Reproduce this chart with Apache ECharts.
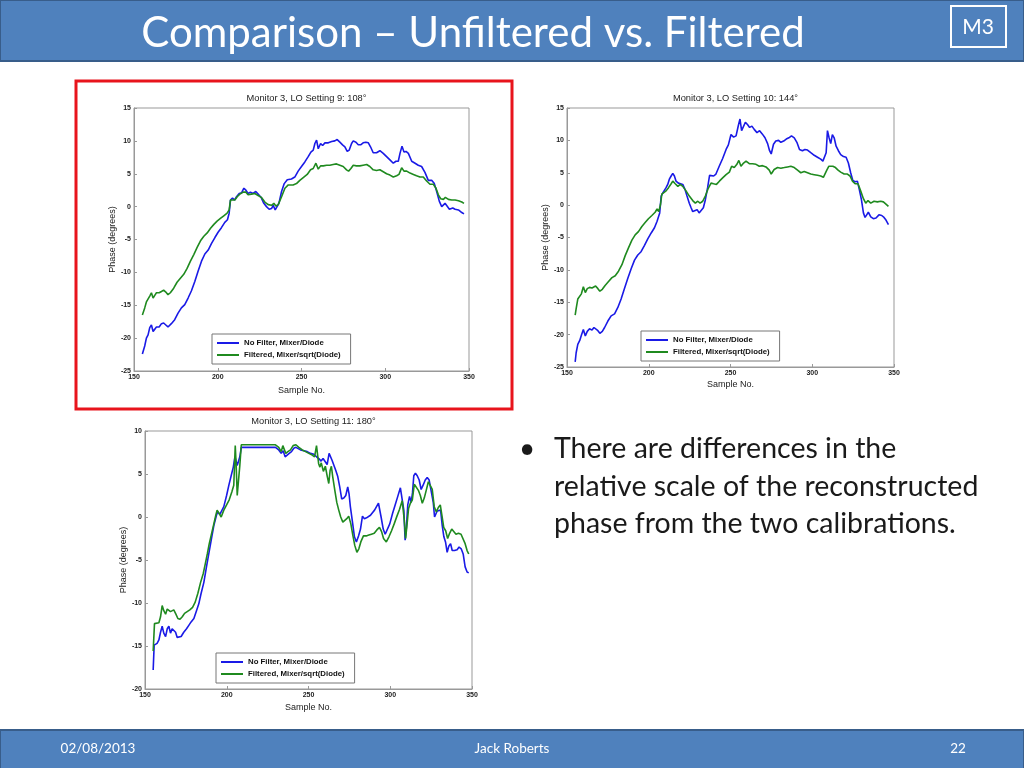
<!DOCTYPE html>
<html>
<head>
<meta charset="utf-8">
<script src="https://cdn.jsdelivr.net/npm/echarts@6/dist/echarts.min.js"></script>
<style>
  html, body { margin: 0; padding: 0; background: #fff; }
  #main { width: 1024px; height: 768px; }
</style>
</head>
<body>
<div id="main"></div>
<script>
// [sample, phase] pairs
var lo9NoFilter = [[155,-22.4],[156.4,-21.2],[157.4,-20.0],[158.4,-19.5],[159.4,-18.4],[160.4,-18.0],[161.4,-19.0],[162.4,-18.7],[163.4,-18.3],[165,-18.3],[166.4,-17.8],[167.7,-17.7],[169,-18.0],[170.3,-18.3],[171.3,-18.2],[172.3,-17.8],[174.3,-17.2],[176.3,-16.2],[178.3,-15.4],[180.3,-14.9],[182.3,-13.9],[184.3,-12.8],[186.3,-11.4],[188.3,-9.8],[190.3,-8.3],[192.3,-7.2],[194.3,-6.6],[196.3,-5.6],[198.3,-4.7],[200.2,-3.9],[202.2,-3.2],[204.2,-2.4],[205.8,-2.0],[206.8,-1.0],[207.6,1.0],[208.8,1.3],[210,1.0],[211.2,1.5],[212.8,2.0],[214.2,2.1],[215.6,2.8],[216.8,2.5],[218.1,2.0],[219.5,2.2],[221.1,2.0],[222.7,2.3],[224.1,1.9],[226.1,1.3],[227.5,0.5],[229.1,0.0],[230.7,-0.4],[232.1,-0.3],[233.1,0.2],[234.3,-0.5],[235.1,-0.3],[236.5,0.5],[238.1,2.3],[239.7,3.5],[241.5,4.1],[244,4.2],[246,4.5],[248,5.4],[250,6.1],[252,6.8],[254,7.6],[255.6,8.3],[257,8.6],[258,9.6],[259,10.1],[260,8.8],[261.4,9.6],[262.6,9.3],[264,9.7],[266,9.7],[268,9.9],[269.9,10.0],[271.3,10.2],[272.9,9.8],[274.5,9.4],[275.9,9.1],[277.3,8.4],[278.5,8.6],[279.9,9.6],[280.9,10.0],[282.5,9.8],[283.9,9.4],[285.3,9.4],[286.8,9.7],[288.4,9.8],[289.9,9.7],[291.2,9.1],[292.8,8.2],[294.8,8.2],[296.8,8.5],[298.8,8.1],[300.8,7.6],[302.8,7.1],[304.8,6.6],[306.4,6.9],[307.8,6.9],[308.8,8.1],[310,9.2],[311.2,8.3],[312.4,8.4],[313.8,8.1],[315.8,6.9],[317.8,6.6],[319.7,6.3],[321.7,6.1],[323.7,5.2],[325.7,4.0],[327.7,4.0],[329.3,3.5],[330.7,2.3],[332.3,0.8],[333.7,0.0],[334.7,0.2],[335.7,0.5],[336.7,0.2],[338.3,-0.4],[340.3,-0.2],[341.7,-0.4],[343.7,-0.5],[345.7,-0.9],[347,-1.1]];
var lo9Filtered = [[155,-16.5],[156.4,-15.4],[157.4,-14.5],[158.4,-14.3],[159.4,-13.6],[160.4,-13.1],[161.4,-13.9],[162.4,-13.5],[163.4,-13.1],[165,-13.1],[166.4,-12.9],[167.7,-12.7],[169,-13.0],[170.3,-13.4],[171.7,-13.1],[173.7,-12.4],[175.7,-11.5],[177.7,-10.9],[179.7,-10.3],[181.7,-9.4],[183.7,-8.3],[185.7,-7.3],[187.7,-6.2],[189.7,-5.2],[191.7,-4.5],[193.7,-4.0],[195.7,-3.3],[197.7,-2.7],[199.6,-2.2],[201.6,-1.8],[203.6,-1.4],[205.6,-1.0],[206.8,-0.5],[207.6,1.0],[208.8,1.0],[210.2,1.0],[211.6,1.5],[213.2,1.9],[215.2,2.2],[216.8,2.2],[218.1,1.8],[220.1,1.9],[222.1,2.0],[224.1,1.7],[226.1,1.4],[228.1,0.7],[230.1,0.3],[232.1,0.2],[233.5,0.5],[234.7,0.1],[236.1,0.3],[238.1,1.5],[240.1,2.8],[242.1,3.3],[245,3.3],[247,3.5],[249,4.0],[251.4,4.5],[253.4,4.9],[255.4,5.6],[257,5.8],[258.6,6.6],[260,5.7],[261.4,6.2],[263,6.2],[265,6.3],[266.9,6.3],[268.9,6.4],[270.9,6.5],[272.9,6.3],[274.9,6.1],[276.9,5.6],[278.1,5.4],[279.5,5.8],[280.9,6.3],[282.8,6.2],[284.8,6.2],[286.8,6.3],[288.9,6.4],[290.8,6.1],[292.8,5.6],[294.8,5.5],[296.8,5.6],[298.8,5.3],[300.8,5.0],[302.8,4.8],[304.8,4.5],[306.8,4.7],[308.2,4.9],[309.8,5.9],[311.2,5.4],[312.8,5.4],[314.8,5.1],[316.8,4.9],[318.7,4.7],[320.7,4.5],[322.7,4.5],[324.7,3.9],[326.7,3.4],[328.7,3.4],[330.3,2.8],[331.7,1.8],[333.1,1.2],[334.7,1.1],[335.9,1.4],[337.7,1.1],[339.7,1.0],[341.7,1.0],[343.7,0.9],[345.7,0.7],[347,0.5]];

var lo10NoFilter = [[155,-24.2],[155.6,-22.8],[156.6,-21.5],[157.8,-20.9],[158.8,-20.1],[160.0,-19.2],[161.2,-20.2],[162.4,-19.5],[163.8,-19.1],[165.3,-19.3],[166.5,-18.9],[167.5,-18.7],[168.9,-19.4],[170.1,-19.8],[171.6,-19.5],[173.0,-18.9],[175.0,-17.9],[177.0,-17.1],[179.1,-16.8],[181.1,-15.8],[183.1,-14.5],[185.1,-12.9],[187.2,-11.3],[189.3,-9.8],[191.3,-8.5],[193.3,-7.7],[195.3,-7.2],[197.4,-6.2],[199.4,-5.2],[201.5,-4.3],[203.5,-3.5],[205.1,-2.5],[206.1,-2.3],[206.7,-1.2],[207.6,1.4],[208.6,1.9],[209.6,2.2],[210.6,2.7],[211.6,3.2],[212.6,4.0],[213.7,4.5],[214.7,4.9],[215.7,4.5],[216.7,3.7],[218.1,3.4],[219.3,3.6],[220.8,3.2],[222.2,2.4],[223.4,1.4],[224.8,0.3],[225.9,-0.4],[226.9,-1.0],[228.1,-1.3],[229.6,-0.7],[230.8,-1.2],[232.0,-1.1],[233.4,-0.4],[234.6,0.8],[236.0,2.7],[237.2,4.6],[238.4,4.8],[239.7,4.5],[241.1,4.8],[243.1,6.0],[245.2,7.2],[247.3,8.6],[248.7,9.3],[250.3,10.9],[251.9,10.5],[253.4,10.7],[254.8,12.3],[255.8,13.3],[256.8,11.5],[258.0,11.7],[259.1,12.8],[260.5,12.4],[261.7,12.0],[263.1,12.2],[264.5,11.7],[266.2,11.2],[267.8,11.5],[269.4,11.0],[271.1,10.4],[272.7,9.5],[273.9,8.4],[274.9,7.9],[276.3,9.4],[277.7,9.9],[279.4,10.0],[280.8,9.7],[282.5,9.9],[284.1,10.2],[285.7,10.4],[287.3,10.7],[289.0,10.4],[290.6,9.7],[292.2,8.6],[294.0,8.4],[295.5,8.6],[297.1,8.5],[299.1,8.1],[301.2,7.7],[303.2,7.4],[305.2,7.1],[306.5,6.8],[307.7,6.5],[308.5,8.1],[309.3,11.5],[310.3,10.4],[311.3,9.5],[312.3,10.9],[313.4,10.4],[314.6,9.1],[316.0,8.4],[317.4,7.8],[319.1,7.5],[320.7,7.4],[322.1,6.5],[323.5,5.0],[324.8,3.8],[326.2,3.6],[327.6,3.7],[328.8,2.4],[330.1,0.8],[331.3,-1.2],[332.3,-1.9],[333.3,-1.5],[334.3,-1.1],[335.8,-1.8],[337.4,-2.1],[339.0,-2.0],[340.8,-1.5],[342.5,-1.6],[343.9,-1.9],[345.1,-2.3],[346.6,-3.0]];
var lo10Filtered = [[155,-17.0],[155.6,-16.0],[156.6,-14.5],[157.8,-14.2],[158.8,-13.7],[160.0,-12.6],[161.2,-13.5],[162.4,-12.9],[163.8,-12.7],[165.3,-12.8],[166.5,-12.6],[167.5,-12.5],[168.9,-12.9],[170.1,-13.3],[171.6,-13.0],[173.3,-12.4],[175.4,-11.8],[177.5,-11.2],[179.5,-10.9],[181.5,-10.2],[183.6,-9.2],[185.6,-7.8],[187.6,-6.6],[189.7,-5.4],[191.7,-4.6],[193.7,-4.1],[195.8,-3.3],[197.8,-2.7],[199.8,-2.1],[201.9,-1.6],[203.9,-1.1],[205.1,-0.6],[206.1,-1.0],[207.2,0.1],[208.0,1.7],[209.2,1.9],[210.6,2.2],[212.1,2.7],[213.7,3.3],[214.7,3.7],[216.2,3.3],[217.8,2.9],[219.3,3.2],[220.8,2.9],[222.8,2.2],[224.8,1.4],[226.9,0.7],[228.5,0.3],[230.0,0.6],[231.4,0.3],[233.0,0.6],[234.6,1.4],[236.4,2.6],[238.1,3.4],[239.7,3.3],[241.4,3.2],[243.2,3.7],[245.2,4.2],[247.3,4.7],[249.3,5.1],[250.7,6.0],[252.3,5.8],[253.9,6.3],[255.1,6.9],[256.4,6.0],[258.0,6.5],[259.5,6.8],[261.5,6.4],[263.5,6.4],[265.6,6.3],[267.6,6.0],[269.6,6.1],[271.7,5.9],[273.7,5.4],[274.9,4.8],[276.7,5.5],[278.8,5.8],[280.8,5.7],[282.9,5.8],[284.9,5.9],[286.9,6.0],[289.0,5.8],[291.0,5.4],[293.0,5.0],[295.1,5.2],[297.1,5.0],[299.1,4.8],[301.2,4.7],[303.2,4.6],[305.2,4.5],[306.8,4.3],[307.8,4.1],[308.9,5.4],[310.1,6.0],[311.3,5.7],[312.6,6.0],[314.2,5.8],[315.8,5.4],[317.4,5.1],[319.5,4.8],[321.5,4.8],[323.1,4.5],[324.6,3.7],[326.2,3.3],[328.0,3.3],[329.6,2.2],[331.3,1.0],[332.7,0.3],[334.1,0.7],[335.8,0.3],[337.8,0.6],[339.8,0.5],[341.9,0.6],[343.5,0.5],[344.9,0.2],[346.6,-0.2]];

var lo11NoFilter = [[155,-17.8],[155.6,-14.9],[156.4,-15.0],[157.4,-14.7],[158.5,-14.3],[159.5,-13.4],[160.5,-12.7],[161.5,-13.5],[162.6,-13.9],[163.6,-13.0],[164.6,-12.7],[165.6,-13.5],[166.6,-13.0],[167.6,-12.8],[168.7,-13.4],[169.7,-14.0],[170.7,-14.1],[172.1,-13.9],[173.7,-13.4],[175.4,-13.0],[176.8,-12.6],[178.2,-12.2],[179.9,-11.8],[181.5,-10.9],[182.9,-10.1],[184.3,-8.9],[186.0,-7.6],[187.6,-5.8],[189.0,-4.3],[190.5,-2.7],[192.1,-1.0],[193.7,0.2],[194.5,0.6],[195.8,0.3],[196.8,0.1],[198.2,1.2],[199.9,2.5],[201.3,3.7],[202.7,4.8],[204.0,5.8],[205.0,7.0],[205.6,7.2],[206.4,6.0],[207.2,5.8],[208.0,7.0],[208.9,8.1],[210.5,8.1],[214.6,8.1],[218.7,8.1],[222.7,8.1],[226.7,8.1],[229.8,8.1],[231.8,7.8],[233.3,7.4],[234.5,7.7],[235.7,7.0],[236.9,6.8],[238.2,7.4],[239.6,7.6],[241.0,8.0],[242.3,8.1],[243.5,7.9],[245.1,7.8],[247.2,7.7],[249.2,7.6],[251.2,7.4],[253.3,7.3],[254.9,7.0],[256.3,6.8],[257.7,6.5],[258.9,6.8],[260.1,6.6],[261.4,6.1],[262.6,7.4],[263.4,7.6],[264.4,6.6],[265.4,6.4],[266.7,5.4],[267.9,4.7],[269.1,3.5],[270.3,2.1],[271.6,2.2],[272.8,2.5],[274.0,3.5],[274.8,2.7],[275.6,1.2],[276.9,-0.6],[278.1,-2.3],[279.3,-2.9],[280.6,-2.2],[281.8,-1.4],[283.0,0.1],[284.2,-0.2],[285.5,-0.1],[286.7,0.1],[287.9,0.2],[289.1,0.5],[290.4,0.8],[291.6,1.2],[292.8,1.6],[293.6,1.4],[294.4,0.0],[295.7,-1.4],[296.9,-2.0],[298.1,-1.9],[299.7,-0.8],[301.4,0.4],[303.0,1.4],[304.6,2.4],[306.2,3.4],[307.3,3.6],[308.3,0.8],[309.1,-2.7],[309.9,-1.2],[310.7,1.4],[311.8,2.4],[312.8,1.7],[313.6,2.8],[314.4,4.8],[315.4,5.1],[316.5,4.8],[317.7,4.3],[318.9,3.2],[320.1,3.7],[321.4,4.3],[322.6,4.6],[323.8,4.3],[325.0,4.1],[326.3,1.7],[327.1,0.0],[327.9,-0.1],[328.7,0.7],[329.9,0.9],[330.8,0.8],[331.8,-1.0],[332.8,-2.3],[333.8,-2.9],[334.8,-4.1],[335.8,-3.4],[336.9,-3.1],[337.9,-3.9],[339.3,-3.9],[340.9,-3.8],[342.1,-3.5],[343.4,-3.7],[344.6,-4.3],[345.8,-5.8],[347.0,-6.4],[348.0,-6.5]];
var lo11Filtered = [[155,-15.6],[155.8,-12.4],[157.0,-12.3],[158.5,-12.3],[159.5,-11.6],[160.5,-10.3],[161.5,-10.9],[162.6,-11.3],[163.6,-10.7],[164.6,-10.5],[165.6,-11.0],[166.6,-10.9],[167.6,-10.8],[168.9,-11.3],[170.1,-11.8],[171.4,-11.9],[172.8,-11.6],[174.2,-11.2],[175.8,-11.0],[177.4,-10.8],[179.1,-10.5],[180.7,-9.9],[182.3,-8.9],[184.0,-7.6],[185.6,-6.6],[186.8,-5.5],[188.1,-4.3],[189.3,-3.1],[190.5,-2.1],[192.1,-0.8],[193.3,0.2],[194.1,0.8],[195.4,0.4],[196.6,0.0],[198.2,0.8],[199.9,1.4],[201.5,2.0],[203.1,2.9],[204.3,3.7],[205.2,8.3],[205.8,5.8],[206.4,2.5],[207.2,2.5],[208.0,6.0],[208.9,8.4],[210.5,8.4],[218.7,8.4],[226.7,8.4],[229.8,8.4],[231.8,8.1],[233.3,7.6],[234.3,8.3],[235.1,8.3],[236.1,7.4],[237.4,7.6],[239.0,7.8],[240.6,8.3],[242.3,8.4],[244.1,8.1],[246.2,7.8],[248.2,7.6],[250.2,7.4],[252.3,7.2],[253.7,7.0],[254.9,8.3],[255.6,8.1],[256.2,6.2],[257.0,5.8],[257.8,6.3],[259.1,5.3],[260.3,5.9],[261.5,4.7],[262.4,3.9],[263.2,5.4],[264.0,5.9],[264.8,4.7],[266.1,3.1],[267.3,1.7],[268.5,0.8],[269.7,0.0],[271.0,-0.6],[272.2,-0.6],[273.4,-0.2],[274.6,0.1],[275.9,-0.8],[277.1,-2.1],[278.3,-3.3],[279.6,-4.1],[280.8,-3.7],[282.0,-2.9],[283.6,-2.2],[285.3,-2.2],[286.9,-2.1],[288.5,-2.0],[290.2,-1.9],[291.8,-1.5],[293.4,-1.2],[294.7,-1.7],[295.9,-2.5],[297.6,-2.9],[299.2,-2.3],[300.8,-1.6],[302.4,-0.8],[304.1,0.1],[305.7,0.9],[307.3,1.9],[308.6,-0.4],[309.4,-2.5],[310.2,-1.0],[311.2,1.0],[312.3,1.6],[313.5,2.0],[314.7,3.8],[315.9,3.8],[317.2,3.1],[318.4,2.5],[319.6,1.6],[320.8,2.2],[322.0,3.1],[323.3,4.1],[324.5,4.1],[325.7,3.2],[326.9,1.2],[328.2,0.6],[329.4,1.1],[330.6,1.4],[331.6,0.2],[332.7,-1.2],[333.9,-1.6],[335.1,-2.5],[336.3,-1.9],[337.6,-1.4],[338.8,-1.6],[340.2,-2.0],[341.7,-1.9],[343.3,-2.0],[344.5,-1.9],[345.8,-3.1],[347.0,-3.9],[348.0,-4.3]];

var plotTitles = ['Monitor 3, LO Setting 9: 108\u00b0', 'Monitor 3, LO Setting 10: 144\u00b0', 'Monitor 3, LO Setting 11: 180\u00b0'];
var seriesNames = ['No Filter, Mixer/Diode', 'Filtered, Mixer/sqrt(Diode)'];
var bulletLines = ['There are differences in the', 'relative scale of the reconstructed', 'phase from the two calibrations.'];

var chart = echarts.init(document.getElementById('main'), null, { renderer: 'canvas' });

var blue = '#1a1ae6';
var green = '#1f8a1f';
var axisFont = 'Liberation Sans';

// plot boxes measured off the slide
var boxes = [
  { left: 134, top: 108, width: 335, height: 263, yMin: -25, yMax: 15, legend: [212, 334], xGap: 15, yGap: 16 },
  { left: 567, top: 108, width: 327, height: 259, yMin: -25, yMax: 15, legend: [641, 331], xGap: 13, yGap: 16 },
  { left: 145, top: 431, width: 327, height: 258, yMin: -20, yMax: 10, legend: [216, 653], xGap: 14, yGap: 15 }
];

function xAx(i, b) {
  return {
    type: 'value', gridIndex: i, min: 150, max: 350, interval: 50,
    name: 'Sample No.', nameLocation: 'middle', nameGap: b.xGap,
    nameTextStyle: { fontFamily: axisFont, fontSize: 9, color: '#222' },
    axisLine: { onZero: false, lineStyle: { color: '#999' } },
    axisTick: { inside: true, length: 3, lineStyle: { color: '#999' } },
    axisLabel: { fontFamily: axisFont, fontSize: 7, fontWeight: 'bold', color: '#222', margin: 3 },
    splitLine: { show: false }
  };
}
function yAx(i, b) {
  return {
    type: 'value', gridIndex: i, min: b.yMin, max: b.yMax, interval: 5,
    name: 'Phase (degrees)', nameLocation: 'middle', nameGap: b.yGap,
    nameTextStyle: { fontFamily: axisFont, fontSize: 9, color: '#222' },
    axisLine: { onZero: false, lineStyle: { color: '#999' } },
    axisTick: { inside: true, length: 3, lineStyle: { color: '#999' } },
    axisLabel: { fontFamily: axisFont, fontSize: 7, fontWeight: 'bold', color: '#222', margin: 3 },
    splitLine: { show: false }
  };
}
function line(name, idx, data, color) {
  return {
    name: name, type: 'line', xAxisIndex: idx, yAxisIndex: idx,
    data: data, showSymbol: false, symbol: 'none',
    lineStyle: { color: color, width: 1.6 }, itemStyle: { color: color }
  };
}

var option = {
  animation: false,
  backgroundColor: '#fff',
  title: boxes.map(function (b, i) {
    return {
      text: plotTitles[i], left: b.left + b.width / 2, top: b.top - 19, textAlign: 'center',
      textStyle: { fontFamily: axisFont, fontSize: 9.3, fontWeight: 'normal', color: '#222' }
    };
  }),
  legend: boxes.map(function (b) {
    return {
      data: seriesNames, orient: 'vertical', left: b.legend[0], top: b.legend[1],
      icon: 'rect', itemWidth: 22, itemHeight: 2, itemGap: 4,
      padding: [5, 10, 5, 5], borderColor: '#777', borderWidth: 1, backgroundColor: '#fff',
      textStyle: { fontFamily: axisFont, fontSize: 7.8, fontWeight: 'bold', color: '#111' },
      selectedMode: false
    };
  }),
  grid: boxes.map(function (b) {
    return { left: b.left, top: b.top, width: b.width, height: b.height, show: true, borderColor: '#999', borderWidth: 1 };
  }),
  xAxis: boxes.map(function (b, i) { return xAx(i, b); }),
  yAxis: boxes.map(function (b, i) { return yAx(i, b); }),
  series: [
    line(seriesNames[0], 0, lo9NoFilter, blue),
    line(seriesNames[1], 0, lo9Filtered, green),
    line(seriesNames[0], 1, lo10NoFilter, blue),
    line(seriesNames[1], 1, lo10Filtered, green),
    line(seriesNames[0], 2, lo11NoFilter, blue),
    line(seriesNames[1], 2, lo11Filtered, green)
  ],
  graphic: [
    { type: 'rect', shape: { x: 0, y: 0, width: 1024, height: 61 }, style: { fill: '#4f81bd', stroke: '#385d8a', lineWidth: 2 } },
    { type: 'text', x: 473, y: 33, style: { text: 'Comparison \u2013 Unfiltered vs. Filtered', fill: '#fff', font: '42px Lato', textAlign: 'center', textVerticalAlign: 'middle' } },
    { type: 'rect', shape: { x: 951, y: 6, width: 55, height: 41 }, style: { fill: 'transparent', stroke: '#fff', lineWidth: 2 } },
    { type: 'text', x: 978, y: 27, style: { text: 'M3', fill: '#fff', font: '21px Lato', textAlign: 'center', textVerticalAlign: 'middle' } },
    { type: 'rect', shape: { x: 76, y: 81, width: 436, height: 328 }, style: { fill: 'transparent', stroke: '#e8141c', lineWidth: 3 } },
    { type: 'text', x: 519, y: 449, style: { text: '\u2022', fill: '#1a1a1a', font: '28px Lato', textAlign: 'left', textVerticalAlign: 'middle' } },
    { type: 'text', x: 554, y: 449, style: { text: bulletLines[0], fill: '#1a1a1a', font: '28.5px Lato', textAlign: 'left', textVerticalAlign: 'middle' } },
    { type: 'text', x: 554, y: 487, style: { text: bulletLines[1], fill: '#1a1a1a', font: '28.5px Lato', textAlign: 'left', textVerticalAlign: 'middle' } },
    { type: 'text', x: 554, y: 524, style: { text: bulletLines[2], fill: '#1a1a1a', font: '28.5px Lato', textAlign: 'left', textVerticalAlign: 'middle' } },
    { type: 'rect', shape: { x: 0, y: 730, width: 1024, height: 40 }, style: { fill: '#4f81bd', stroke: '#385d8a', lineWidth: 2 } },
    { type: 'text', x: 98, y: 749, style: { text: '02/08/2013', fill: '#fff', font: '13.5px Lato', textAlign: 'center', textVerticalAlign: 'middle' } },
    { type: 'text', x: 512, y: 749, style: { text: 'Jack Roberts', fill: '#fff', font: '13.5px Lato', textAlign: 'center', textVerticalAlign: 'middle' } },
    { type: 'text', x: 958, y: 749, style: { text: '22', fill: '#fff', font: '13.5px Lato', textAlign: 'center', textVerticalAlign: 'middle' } }
  ]
};

chart.setOption(option);
</script>
</body>
</html>
